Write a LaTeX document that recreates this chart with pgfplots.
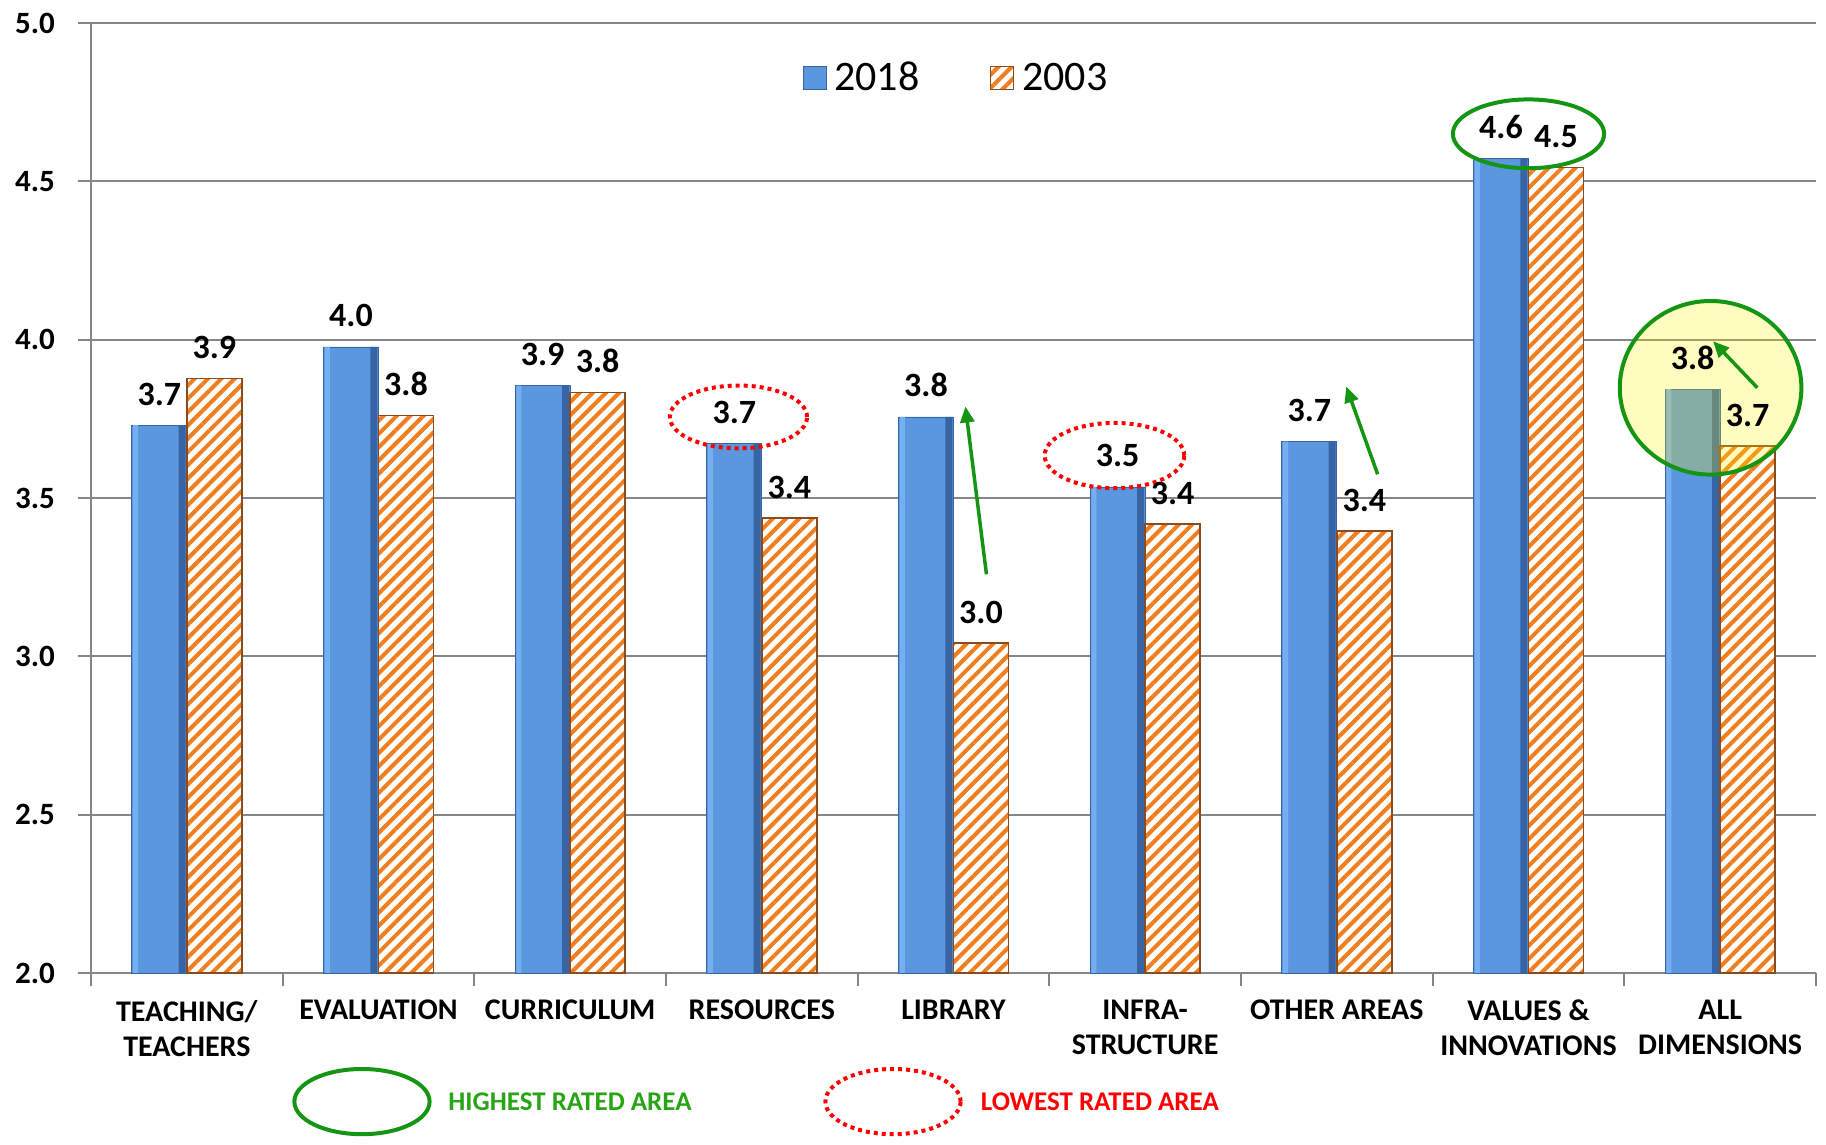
\documentclass[border=0pt]{standalone}
\usepackage{fontspec}
\setmainfont{Carlito}
\usepackage{pgfplots}
\usepackage{pgfplotstable}
\pgfplotsset{compat=1.18}
\usetikzlibrary{patterns.meta,arrows.meta}
\definecolor{barblue}{RGB}{91,151,222}
\definecolor{bluelight}{RGB}{118,175,240}
\definecolor{bluedark}{RGB}{55,100,165}
\definecolor{barorange}{RGB}{240,125,30}
\definecolor{orangeedge}{RGB}{140,75,30}
\definecolor{gridgray}{RGB}{134,134,134}
\definecolor{annogreen}{RGB}{20,150,20}
\definecolor{textgreen}{RGB}{40,165,20}
\pgfplotstableread{
x y18 y03
0 3.73 3.877
1 3.977 3.76
2 3.855 3.833
3 3.671 3.436
4 3.756 3.042
5 3.535 3.417
6 3.678 3.395
7 4.573 4.544
8 3.844 3.664
}\data
\pgfplotsset{lbl/.style={nodes near coords={\pgfmathprintnumber[fixed,fixed zerofill,precision=1]{\pgfplotspointmeta}}}}
\begin{document}
\begin{tikzpicture}
\begin{axis}[
  at={(0,0)}, anchor=south west,
  scale only axis, width=862.5pt, height=475pt,
  xmin=-0.5, xmax=8.5, ymin=2, ymax=5,
  ybar=0pt, bar width=27.5pt,
  clip=false,
  axis x line*=bottom, axis y line*=left,
  axis line style={gridgray, line width=1pt, -},
  ytick={2,2.5,3,3.5,4,4.5,5},
  /pgf/number format/assume math mode=true,
  yticklabel={\pgfmathprintnumber[fixed,fixed zerofill,precision=1]{\tick}},
  yticklabel style={font=\fontsize{15.5}{17}\selectfont\bfseries, xshift=-8pt},
  ymajorgrids, major grid style={gridgray, line width=1pt},
  xtick={-0.5,0.5,1.5,2.5,3.5,4.5,5.5,6.5,7.5,8.5},
  xticklabels={},
  tick align=outside,
  major tick length=6.5pt,
  tick style={gridgray, line width=1pt},
  extra x ticks={0,1,2,3,4,5,6,7,8},
  extra x tick labels={{TEACHING/\\TEACHERS},{EVALUATION},{CURRICULUM},{RESOURCES},{LIBRARY},{INFRA-\\STRUCTURE},{OTHER AREAS},{VALUES \&\\INNOVATIONS},{ALL\\DIMENSIONS}},
  extra x tick style={major tick length=0pt, tick style={draw=none},
     xticklabel style={align=center, font=\fontsize{15}{17.5}\selectfont\bfseries, yshift=-10pt}},
  every node near coord/.append style={anchor=base, yshift=10pt, text=black, font=\fontsize{17}{19}\selectfont\bfseries},
  legend style={at={(0.502,0.942)}, anchor=center, draw=none, fill=none, legend columns=2,
     font=\fontsize{21}{24}\selectfont,
     /tikz/every even column/.append style={column sep=33pt}},
  legend image code/.code={\draw[#1] (0pt,-5.75pt) rectangle (11.5pt,5.75pt); \path (13.5pt,0pt);},
]
\addplot[lbl, bar shift=-13.75pt, fill=barblue, draw=bluedark, line width=0.4pt]
  table[x=x,y=y18]{\data};
\addplot[lbl, bar shift=13.75pt, draw=orangeedge, line width=0.8pt, fill=white,
  postaction={pattern={Lines[angle=45, distance=4.7pt, line width=2pt]}, pattern color=barorange}]
  table[x=x,y=y03]{\data};
\legend{2018, 2003}
% bevel strips of the 2018 bars (same data)
\addplot[forget plot, bar width=3.5pt, bar shift=-2.3pt, fill=bluedark, draw=none]
  table[x=x,y=y18]{\data};
\addplot[forget plot, bar width=2.5pt, bar shift=-25.6pt, fill=bluelight, draw=none]
  table[x=x,y=y18]{\data};
\draw[annogreen, line width=2pt] (axis cs:7.0,4.65) ellipse [x radius=37.8pt, y radius=17.2pt];
\draw[annogreen, line width=2pt, fill=yellow, fill opacity=0.25] (axis cs:7.95,3.848) ellipse [x radius=45.4pt, y radius=43.4pt];
\draw[red, line width=2pt, dash pattern=on 2pt off 2pt] (axis cs:2.878,3.756) ellipse [x radius=34.3pt, y radius=15.7pt];
\draw[red, line width=2pt, dash pattern=on 2pt off 2pt] (axis cs:4.84,3.634) ellipse [x radius=34.9pt, y radius=16.3pt];
\draw[annogreen, line width=1.75pt, -{Triangle[length=8pt,width=7pt]}] (axis cs:4.172,3.259) -- (axis cs:4.062,3.789);
\draw[annogreen, line width=1.75pt, -{Triangle[length=8pt,width=7pt]}] (axis cs:6.213,3.575) -- (axis cs:6.049,3.852);
\draw[annogreen, line width=1.75pt, -{Triangle[length=8pt,width=7pt]}] (axis cs:8.194,3.848) -- (axis cs:7.963,3.995);
\end{axis}
\draw[annogreen, line width=2pt] (135.5pt,-64.3pt) ellipse [x radius=33.8pt, y radius=16.3pt];
\node[anchor=west, text=textgreen, font=\fontsize{13.5}{16}\selectfont\bfseries, inner sep=0pt] at (178.5pt,-64.3pt) {HIGHEST RATED AREA};
\draw[red, line width=2pt, dash pattern=on 2pt off 2pt] (401pt,-64.3pt) ellipse [x radius=33.8pt, y radius=16.3pt];
\node[anchor=west, text=red, font=\fontsize{13.5}{16}\selectfont\bfseries, inner sep=0pt] at (444.7pt,-64.3pt) {LOWEST RATED AREA};
\pgfresetboundingbox
\useasboundingbox (-45.5pt,-86pt) rectangle (867.5pt,486.5pt);
\end{tikzpicture}
\end{document}
